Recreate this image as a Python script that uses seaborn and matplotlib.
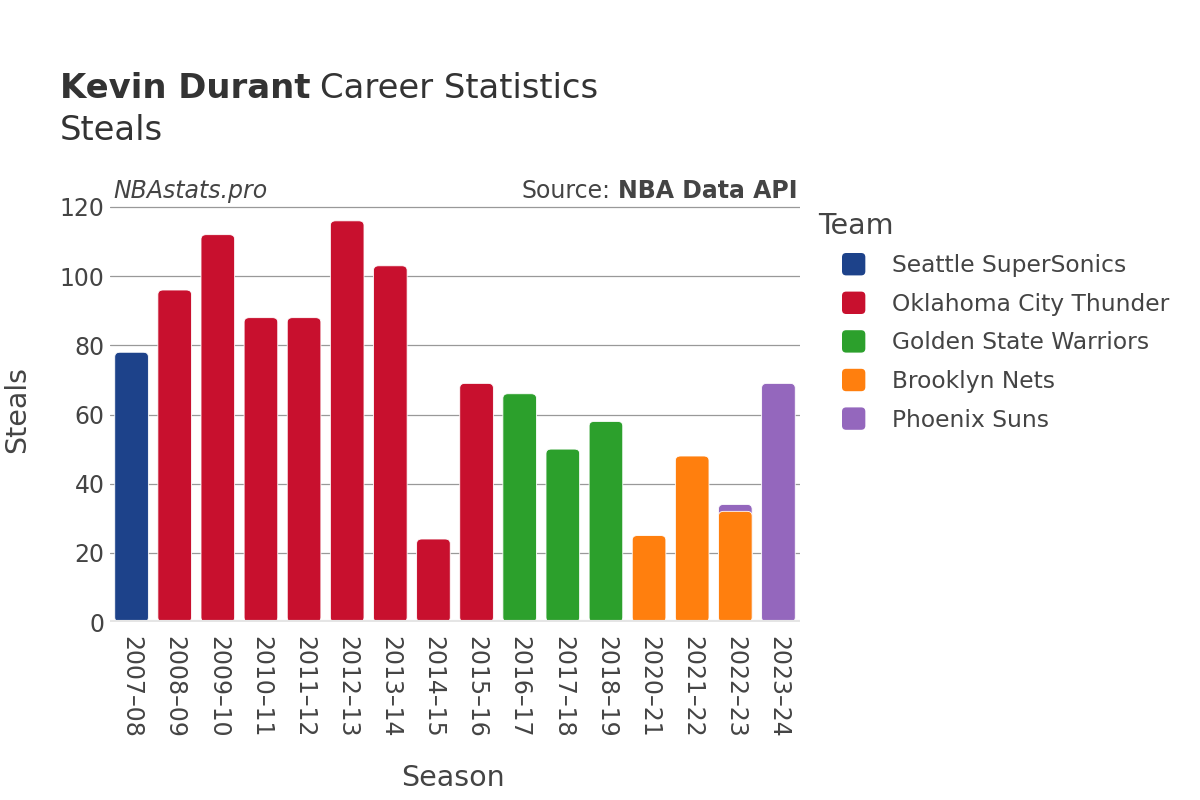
import pandas as pd
import matplotlib
matplotlib.use("Agg")
import matplotlib.pyplot as plt
from matplotlib.patches import FancyBboxPatch, Patch
from matplotlib.legend_handler import HandlerPatch
import seaborn as sns

# =============================================
# Data
seasons = ['2007–08', '2008–09', '2009–10', '2010–11', '2011–12', '2012–13',
           '2013–14', '2014–15', '2015–16', '2016–17', '2017–18', '2018–19',
           '2020–21', '2021–22', '2022–23', '2022–23', '2023–24']
teams = ['Seattle SuperSonics'] + ['Oklahoma City Thunder'] * 8 + \
        ['Golden State Warriors'] * 3 + ['Brooklyn Nets'] * 3 + ['Phoenix Suns'] * 2
steals = [78, 96, 112, 88, 88, 116, 103, 24, 69, 66, 50, 58, 25, 48, 32, 2, 69]

team_order = ['Seattle SuperSonics', 'Oklahoma City Thunder', 'Golden State Warriors',
              'Brooklyn Nets', 'Phoenix Suns']
team_colors = ['#1d428a', '#c8102e', '#2ca02c', '#ff7f0e', '#9467bd']
season_order = list(dict.fromkeys(seasons))

df = pd.DataFrame({'season': seasons, 'team': teams, 'steals': steals})
# stacked top of each segment within a season
df['top'] = df.groupby('season')['steals'].cumsum()

# =============================================
# Plot parameters
textColor = '#444444'
tickFontSize = 17
legendFontSize = 16.8
labelFontSize = 20.5
titleFontSize = 24.4

sns.set_style("white")
plt.rcParams['font.family'] = ['DejaVu Sans']

fig = plt.figure(figsize=(12, 8), dpi=100)
ax = fig.add_axes([110 / 1200, 1 - 622 / 800, 690 / 1200, 415 / 800 * 121 / 120])

sns.barplot(data=df, x='season', y='top', hue='team', order=season_order,
            hue_order=team_order, palette=team_colors, dodge=False,
            errorbar=None, width=0.78, ax=ax, saturation=1, legend=False)

# replace bars by rounded ones, shorter segments drawn on top
for p in list(ax.patches):
    h = p.get_height()
    if not h or h != h:
        p.remove()
        continue
    rb = FancyBboxPatch((p.get_x(), p.get_y()), p.get_width(), h,
                        boxstyle="round,pad=0,rounding_size=0.12",
                        mutation_aspect=11,
                        facecolor=p.get_facecolor(), edgecolor='white',
                        linewidth=0.6, zorder=3 - h / 1000)
    p.remove()
    ax.add_patch(rb)

ax.set_ylim(0, 121)
ax.set_xlim(-0.5, len(season_order) - 0.5)
ax.set_yticks([0, 20, 40, 60, 80, 100, 120])
ax.yaxis.grid(True, color='#999999', linewidth=0.9)
ax.set_axisbelow(True)
ax.axhline(0, color='#e5e5e5', linewidth=3, zorder=4)
for s in ax.spines.values():
    s.set_visible(False)

ax.tick_params(axis='x', labelrotation=-90, labelsize=tickFontSize, colors=textColor, length=0, pad=10)
ax.tick_params(axis='y', labelsize=tickFontSize, colors=textColor, length=0, pad=4)
ax.set_xlabel('')
ax.set_ylabel('')
fig.text(453 / 1200, 1 - 778 / 800, 'Season', fontsize=labelFontSize, color=textColor,
         ha='center', va='center')
fig.text(17 / 1200, 1 - 410 / 800, 'Steals', fontsize=labelFontSize, color=textColor,
         ha='center', va='center', rotation=90)


# legend with rounded square markers
def rounded_marker(legend, orig_handle, xdescent, ydescent, width, height, fontsize):
    return FancyBboxPatch((-xdescent, -ydescent), width, height,
                          boxstyle="round,pad=0,rounding_size=3")


handles = [Patch(facecolor=c, edgecolor='none', label=t) for t, c in zip(team_order, team_colors)]
leg = ax.legend(handles=handles, loc='upper left', bbox_to_anchor=(842 / 1200, 1 - 253 / 800),
                bbox_transform=fig.transFigure, frameon=False,
                fontsize=legendFontSize, handlelength=1.0, handleheight=1.1,
                labelspacing=0.62, handletextpad=1.15, borderpad=0, borderaxespad=0,
                handler_map={Patch: HandlerPatch(patch_func=rounded_marker)})
for t in leg.get_texts():
    t.set_color(textColor)
fig.text(818 / 1200, 1 - 226 / 800, 'Team', fontsize=labelFontSize, color=textColor,
         va='center')

# titles
fig.text(60 / 1200, 1 - 88 / 800, 'Kevin Durant', fontsize=titleFontSize,
         fontweight='bold', color='#333333', va='center')
fig.canvas.draw()
r = fig.canvas.get_renderer()
bb = fig.texts[-1].get_window_extent(r)
fig.text(bb.x1 / 1200 + 0.008, 1 - 88 / 800, 'Career Statistics', fontsize=titleFontSize,
         color='#333333', va='center')
fig.text(60 / 1200, 1 - 131 / 800, 'Steals', fontsize=titleFontSize,
         color='#333333', va='center')

fig.text(113 / 1200, 1 - 191 / 800, 'NBAstats.pro', fontsize=tickFontSize,
         style='italic', color=textColor, va='center')
src = fig.text(797 / 1200, 1 - 191 / 800, 'NBA Data API', fontsize=tickFontSize,
               fontweight='bold', color=textColor, va='center', ha='right')
fig.canvas.draw()
bb2 = src.get_window_extent(fig.canvas.get_renderer())
fig.text(bb2.x0 / 1200 - 0.006, 1 - 191 / 800, 'Source:', fontsize=tickFontSize,
         color=textColor, va='center', ha='right')

plt.savefig('out.png', dpi=100)
